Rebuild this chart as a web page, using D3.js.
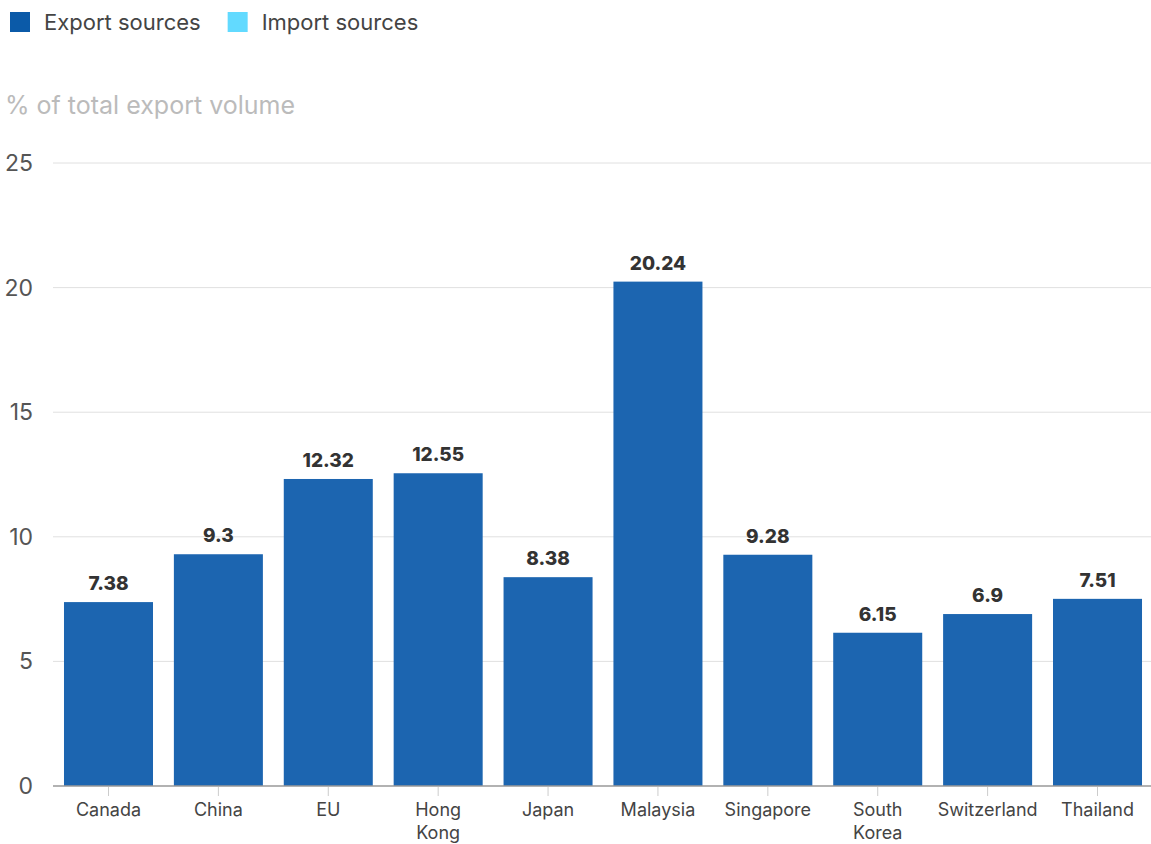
<!DOCTYPE html>
<html>
<head>
<meta charset="utf-8">
<script src="https://cdn.jsdelivr.net/npm/d3@7"></script>
<style>
  body { margin: 0; background: #fff; font-family: Inter, "Noto Sans", sans-serif; }
</style>
</head>
<body>
<svg id="chart" width="1151" height="844"></svg>
<script>
const countries = ["Canada", "China", "EU", "Hong Kong", "Japan", "Malaysia", "Singapore", "South Korea", "Switzerland", "Thailand"]
const shares = [7.38, 9.3, 12.32, 12.55, 8.38, 20.24, 9.28, 6.15, 6.9, 7.51]
const yTicks = [0, 5, 10, 15, 20, 25]
const legendItems = ["Export sources", "Import sources"]
const legendColors = ["#0b5aa8", "#62daff"]

const svg = d3.select("#chart")
const plotLeft = 53, plotRight = 1153, plotTop = 163, plotBottom = 786

const x = d3.scaleBand().domain(countries).range([plotLeft, plotRight]).paddingInner(0.19).paddingOuter(0.1)
const y = d3.scaleLinear().domain([0, 25]).range([plotBottom, plotTop])

// legend
let lx = 10
const leg = svg.append("g")
legendItems.forEach((name, i) => {
  const g = leg.append("g").attr("transform", `translate(${lx},12)`)
  g.append("rect").attr("width", 20).attr("height", 20).attr("fill", legendColors[i])
  const t = g.append("text").attr("x", 34).attr("y", 18)
    .attr("font-size", 22).attr("fill", "#444").text(name)
  lx += 34 + t.node().getComputedTextLength() + 27
})

// y title
svg.append("text").attr("x", 5).attr("y", 114)
  .attr("font-size", 25).attr("fill", "#bbb").text("% of total export volume")

// grid
svg.append("g").selectAll("line")
  .data(yTicks.filter(d => d > 0))
  .enter().append("line")
  .attr("x1", plotLeft).attr("x2", 1151)
  .attr("y1", d => y(d)).attr("y2", d => y(d))
  .attr("stroke", "#e0e0e0").attr("stroke-width", 1)

svg.append("g").selectAll("text")
  .data(yTicks)
  .enter().append("text")
  .attr("x", 33).attr("y", d => y(d) + 8)
  .attr("text-anchor", "end")
  .attr("font-size", 23).attr("fill", "#555")
  .text(d => d)

// bars
svg.append("g").selectAll("rect")
  .data(countries)
  .enter().append("rect")
  .attr("x", d => x(d))
  .attr("width", x.bandwidth())
  .attr("y", (d, i) => y(shares[i]))
  .attr("height", (d, i) => y(0) - y(shares[i]))
  .attr("fill", "#1c65b0")

// value labels
svg.append("g").selectAll("text")
  .data(countries)
  .enter().append("text")
  .attr("x", d => x(d) + x.bandwidth() / 2)
  .attr("y", (d, i) => y(shares[i]) - 12)
  .attr("text-anchor", "middle")
  .attr("font-size", 19).attr("font-weight", 800).attr("fill", "#333")
  .text((d, i) => shares[i])

// x axis
svg.append("line").attr("x1", plotLeft).attr("x2", 1151)
  .attr("y1", plotBottom).attr("y2", plotBottom)
  .attr("stroke", "#999").attr("stroke-width", 1.5)

const xl = svg.append("g").selectAll("g")
  .data(countries)
  .enter().append("g")
  .attr("transform", d => `translate(${x(d) + x.bandwidth() / 2},${plotBottom})`)
xl.append("line").attr("y1", 1).attr("y2", 10).attr("stroke", "#ccc")
xl.append("text")
  .attr("text-anchor", "middle")
  .attr("font-size", 18).attr("fill", "#444")
  .selectAll("tspan")
  .data(d => d.split(" "))
  .enter().append("tspan")
  .attr("x", 0)
  .attr("y", (d, i) => 30 + i * 23)
  .text(d => d)
</script>
</body>
</html>
